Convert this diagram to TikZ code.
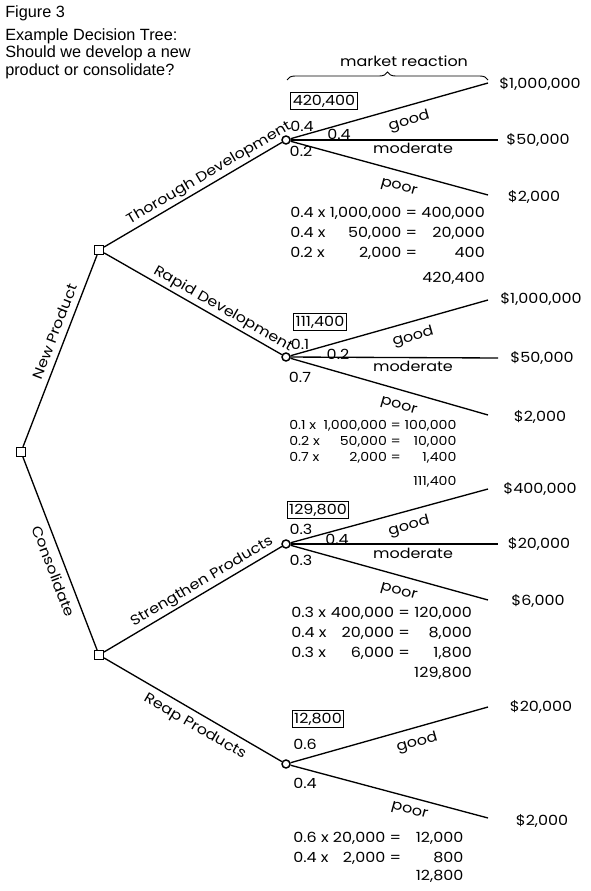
\documentclass[tikz,border=0pt]{standalone}
\usepackage{fontspec}
\setmainfont{Poppins}[FakeStretch=1.14,Numbers=Monospaced]
\newfontfamily\captionfont{Liberation Sans}
\usetikzlibrary{decorations.pathreplacing}

\begin{document}
\begin{tikzpicture}[
  x=0.75pt,y=-0.75pt,
  font=\fontsize{10.5}{13}\selectfont,
  branch/.style={line width=1pt},
  decision/.style={draw,rectangle,minimum size=6.8pt,inner sep=0pt,fill=white,line width=0.8pt},
  chance/.style={draw,circle,minimum size=6pt,inner sep=0pt,fill=white,line width=1.1pt},
  dlabel/.style={sloped,inner sep=1.5pt,text height=0.75em,text depth=3pt},
  dlow/.style={dlabel,below,inner ysep=5pt},
  rlabel/.style={sloped,anchor=north,inner sep=0pt,text height=13.5pt},
  mlabel/.style={rlabel,text height=10pt},
  prob/.style={inner sep=0pt},
  value/.style={draw,inner sep=1.5pt,line width=0.8pt},
  payoff/.style={inner sep=0pt},
  calc/.style={inner sep=0pt,anchor=north west},
  caption/.style={font=\captionfont\fontsize{12.2}{13.2}\selectfont,align=left,
                  anchor=north west,inner sep=0pt}
]
\useasboundingbox (0,0) rectangle (591,891);

% Caption
\node[caption] (fig) at (5,5) {Figure 3};
\node[caption] (question) at (5,28)
  {Example Decision Tree:\\Should we develop a new\\product or consolidate?};

% Decision nodes
\node[decision] (root) at (21,452) {};
\node[decision] (newprod) at (99,250) {};
\node[decision] (consol) at (99,655) {};

% Chance nodes
\node[chance] (thorough) at (286,140) {};
\node[chance] (rapid) at (286,357) {};
\node[chance] (strength) at (286,544) {};
\node[chance] (reap) at (286,764) {};

% Branch ends
\coordinate (tg) at (488,83);  \coordinate (tm) at (498,140); \coordinate (tp) at (488,195);
\coordinate (rg) at (488,300); \coordinate (rm) at (498,358); \coordinate (rp) at (488,415);
\coordinate (sg) at (488,489); \coordinate (sm) at (498,544); \coordinate (sp) at (488,600);
\coordinate (pg) at (488,707); \coordinate (pp) at (488,818);

% Decisions
\draw[branch] (root) -- node[dlabel,above,pos=.58] (lnew) {New Product} (newprod);
\draw[branch] (root) -- node[dlow,pos=.57] (lcons) {Consolidate} (consol);
\draw[branch] (newprod) -- node[dlabel,above,pos=.62] (lthor) {Thorough Development} (thorough);
\draw[branch] (newprod) -- node[dlabel,above,pos=.64] (lrap) {Rapid Development} (rapid);
\draw[branch] (consol) -- node[dlabel,above,pos=.58] (lstr) {Strengthen Products} (strength);
\draw[branch] (consol) -- node[dlow,pos=.55] (lreap) {Reap Products} (reap);

% Market reaction
\draw[branch] (thorough) -- node[rlabel,pos=.58] (tgood) {good} (tg);
\draw[branch] (thorough) -- node[mlabel,pos=.59] (tmod) {moderate} (tm);
\draw[branch] (thorough) -- node[rlabel,pos=.57] (tpoor) {poor} (tp);
\draw[branch] (rapid) -- node[rlabel,pos=.6] (rgood) {good} (rg);
\draw[branch] (rapid) -- node[mlabel,pos=.59] (rmod) {moderate} (rm);
\draw[branch] (rapid) -- node[rlabel,pos=.57] (rpoor) {poor} (rp);
\draw[branch] (strength) -- node[rlabel,pos=.58] (sgood) {good} (sg);
\draw[branch] (strength) -- node[mlabel,pos=.59] (smod) {moderate} (sm);
\draw[branch] (strength) -- node[rlabel,pos=.57] (spoor) {poor} (sp);
\draw[branch] (reap) -- node[rlabel,pos=.62] (pgood) {good} (pg);
\draw[branch] (reap) -- node[rlabel,pos=.62,text height=11.5pt] (ppoor) {poor} (pp);

\draw[line width=0.7pt,decorate,decoration={brace,amplitude=6pt}] (287,80) -- (488,80);
\node (mkt) at (404,61) {market reaction};

% Probabilities
\node[prob] (t1) at (302,126) {0.4};
\node[prob] (t2) at (339,134) {0.4};
\node[prob] (t3) at (301,151) {0.2};
\node[prob] (r1) at (300,344) {0.1};
\node[prob] (r2) at (338,354) {0.2};
\node[prob] (r3) at (300,377) {0.7};
\node[prob] (s1) at (301,529) {0.3};
\node[prob] (s2) at (337,539) {0.4};
\node[prob] (s3) at (301,560) {0.3};
\node[prob] (p1) at (305,744) {0.6};
\node[prob] (p2) at (305,783) {0.4};

% Expected values
\node[value] (tval) at (324,101) {420,400};
\node[value] (rval) at (320,322) {111,400};
\node[value] (sval) at (318,510) {129,800};
\node[value] (pval) at (318,719) {12,800};

% Payoffs
\node[payoff] (tgp) at (540,84) {\$1,000,000};
\node[payoff] (tmp) at (538,140) {\$50,000};
\node[payoff] (tpp) at (534,197) {\$2,000};
\node[payoff] (rgp) at (541,299) {\$1,000,000};
\node[payoff] (rmp) at (542,358) {\$50,000};
\node[payoff] (rpp) at (540,417) {\$2,000};
\node[payoff] (sgp) at (540,489) {\$400,000};
\node[payoff] (smp) at (539,544) {\$20,000};
\node[payoff] (spp) at (538,601) {\$6,000};
\node[payoff] (pgp) at (541,707) {\$20,000};
\node[payoff] (ppp) at (542,821) {\$2,000};

% Calculations
\node[calc,font=\fontsize{10.5}{15}\selectfont] (tcalc) at (290,203)
  {\begin{tabular}{@{}l@{\ }r@{\ }r@{}}
   0.4 x & 1,000,000 = & 400,000\\
   0.4 x & 50,000 = & 20,000\\
   0.2 x & 2,000 = & 400\\[4pt]
   & & 420,400
   \end{tabular}};
\node[calc,font=\fontsize{9.3}{12}\selectfont] (rcalc) at (289,418)
  {\begin{tabular}{@{}l@{\ }r@{\ }r@{}}
   0.1 x & 1,000,000 = & 100,000\\
   0.2 x & 50,000 = & 10,000\\
   0.7 x & 2,000 = & 1,400\\[6pt]
   & & 111,400
   \end{tabular}};
\node[calc,font=\fontsize{10.5}{15}\selectfont] (scalc) at (291,603)
  {\begin{tabular}{@{}l@{\ }r@{\ }r@{}}
   0.3 x & 400,000 = & 120,000\\
   0.4 x & 20,000 = & 8,000\\
   0.3 x & 6,000 = & 1,800\\
   & & 129,800
   \end{tabular}};
\node[calc,font=\fontsize{10.5}{15}\selectfont] (pcalc) at (293,828)
  {\begin{tabular}{@{}l@{\ }r@{\hspace{11pt}}r@{}}
   0.6 x & 20,000 = & 12,000\\
   0.4 x & 2,000 = & 800\\[-1pt]
   & & 12,800
   \end{tabular}};

\end{tikzpicture}
\end{document}
